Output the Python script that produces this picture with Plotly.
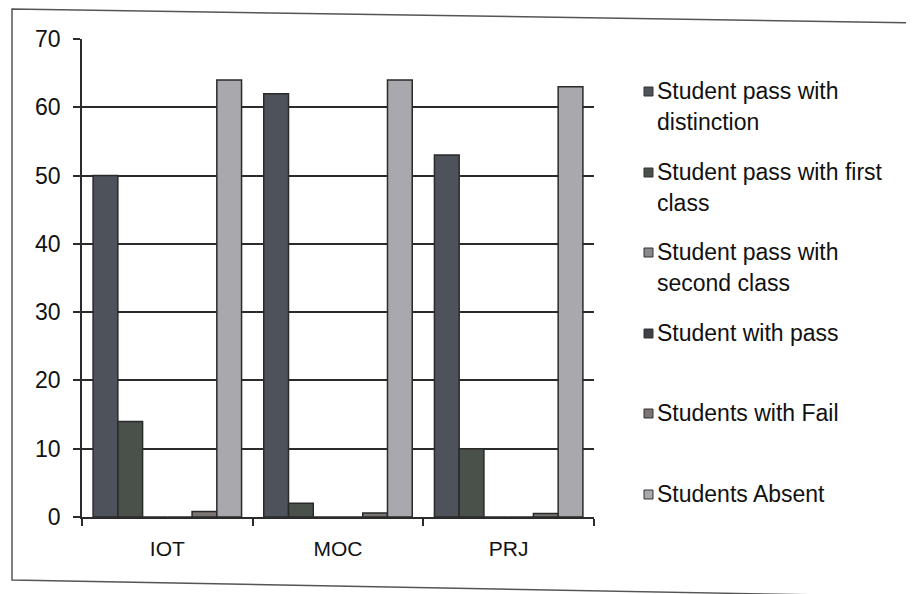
import plotly.graph_objects as go

categories = ["IOT", "MOC", "PRJ"]
series_names = [
    "Student pass with distinction",
    "Student pass with first class",
    "Student pass with second class",
    "Student with pass",
    "Students with Fail",
    "Students Absent",
]
distinction = [50, 62, 53]
first_class = [14, 2, 10]
second_class = [0, 0, 0]
with_pass = [0, 0, 0]
fail = [0.8, 0.6, 0.5]
absent = [64, 64, 63]
y_ticks = [0, 10, 20, 30, 40, 50, 60, 70]

values = [distinction, first_class, second_class, with_pass, fail, absent]
colors = ["#4e535b", "#4a514b", "#8a888d", "#3e4146", "#7a7472", "#a9a8ad"]
legend_lines = [
    ["Student pass with", "distinction"],
    ["Student pass with first", "class"],
    ["Student pass with", "second class"],
    ["Student with pass"],
    ["Students with Fail"],
    ["Students Absent"],
]

FONT = "Liberation Sans"
OFF = 8  # page body margin
W, H = 914 - OFF, 594 - OFF
# plot area in screen pixels
SL, SR, ST, SB = 82, 594, 39, 517
L, R, T, B = SL - OFF, SR - OFF, ST - OFF, SB - OFF

def px(x):
    return (x - SL) / (SR - SL)

def py(y):
    return (SB - y) / (SB - ST)

fig = go.Figure()
for name, vals, col in zip(series_names, values, colors):
    fig.add_trace(go.Bar(
        x=categories, y=vals, name=name,
        marker=dict(color=col, line=dict(color="#2a2a2a", width=1.5)),
        showlegend=False,
    ))

shapes = []
annotations = []
# legend
first_y = [91, 172, 252, 333, 413, 494]
for i, (lines, col) in enumerate(zip(legend_lines, colors)):
    yc = first_y[i]
    shapes.append(dict(type="rect", xref="paper", yref="paper",
                       x0=px(644), x1=px(653), y0=py(yc + 5), y1=py(yc - 4),
                       fillcolor=col, line=dict(color="#333333", width=1)))
    for j, t in enumerate(lines):
        annotations.append(dict(
            text=t, xref="paper", yref="paper", x=px(655), y=py(yc + j * 31),
            xanchor="left", yanchor="middle", showarrow=False,
            font=dict(family=FONT, size=23, color="#111111"),
        ))

# outer (scanned) frame
shapes.append(dict(
    type="path", xref="paper", yref="paper",
    path=(f"M {px(930)},{py(23)} L {px(12)},{py(9)} L {px(12)},{py(580)} "
          f"L {px(930)},{py(597)}"),
    line=dict(color="#555555", width=1.5),
))

fig.update_layout(
    width=W, height=H,
    margin=dict(l=L, r=W - R, t=T, b=H - B, autoexpand=False),
    paper_bgcolor="#ffffff", plot_bgcolor="#ffffff",
    barmode="group", bargap=0.13, bargroupgap=0.0,
    shapes=shapes, annotations=annotations,
    font=dict(family=FONT, size=20, color="#111111"),
)
fig.update_yaxes(
    range=[0, 70], tickvals=y_ticks, showgrid=True,
    gridcolor="#2b2b2b", gridwidth=1.8,
    showline=True, linecolor="#2b2b2b", linewidth=1.8,
    ticks="outside", ticklen=7, tickcolor="#2b2b2b", tickwidth=1.5,
    ticklabelstandoff=8, zeroline=False,
    tickfont=dict(family=FONT, size=23, color="#111111"),
)
fig.update_xaxes(
    showline=True, linecolor="#2b2b2b", linewidth=1.8,
    ticks="outside", tickson="boundaries", ticklen=7,
    tickcolor="#2b2b2b", tickwidth=1.5, ticklabelstandoff=12,
    tickfont=dict(family=FONT, size=21, color="#111111"),
)

fig.write_html("out.html")
